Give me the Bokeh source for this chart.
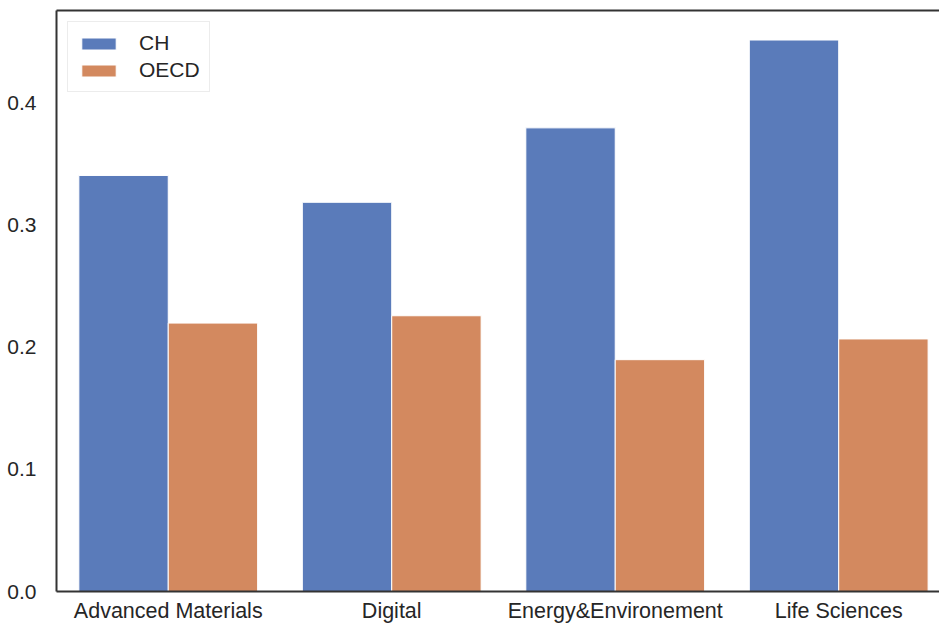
from bokeh.plotting import figure
from bokeh.models import Range1d, FixedTicker, LinearAxis, Legend, LegendItem
from bokeh.embed import file_html
from bokeh.resources import INLINE

categories = ["Advanced Materials", "Digital", "Energy&Environement", "Life Sciences"]
series_names = ["CH", "OECD"]
ch_values = [0.341, 0.319, 0.380, 0.452]
oecd_values = [0.220, 0.226, 0.190, 0.207]
y_ticks = [0.0, 0.1, 0.2, 0.3, 0.4]

BLUE = "#5a7bba"
ORANGE = "#d3895f"
AXIS = "#333333"
TEXT = "#262626"
FONT = "Liberation Sans"

idx = list(range(len(categories)))
bar_w = 0.4

p = figure(frame_width=883, frame_height=581, output_backend="svg", toolbar_location=None,
           x_range=Range1d(-0.5, 3.451), y_range=Range1d(0, 0.4762),
           min_border_left=56, min_border_right=0, min_border_top=10, min_border_bottom=30)
p.outline_line_color = None
p.background_fill_color = "white"
p.border_fill_color = "white"
p.xgrid.visible = False
p.ygrid.visible = False

x_ch = [i - bar_w / 2 for i in idx]
x_oe = [i + bar_w / 2 for i in idx]
r1 = p.vbar(x=x_ch, top=ch_values, width=bar_w, fill_color=BLUE, line_color="white", line_width=1)
r2 = p.vbar(x=x_oe, top=oecd_values, width=bar_w, fill_color=ORANGE, line_color="white", line_width=1)

for ax in (p.xaxis[0], p.yaxis[0]):
    ax.axis_line_color = AXIS
    ax.axis_line_width = 2
    ax.major_tick_line_color = None
    ax.minor_tick_line_color = None
    ax.major_label_text_font = FONT
    ax.major_label_text_font_size = "21px"
    ax.major_label_text_color = TEXT

p.xaxis[0].ticker = FixedTicker(ticks=idx)
p.xaxis[0].major_label_overrides = {i: c for i, c in zip(idx, categories)}
p.xaxis[0].major_label_standoff = 1
p.xaxis[0].major_label_text_font_size = "21.5px"
p.yaxis[0].ticker = FixedTicker(ticks=y_ticks)
p.yaxis[0].major_label_overrides = {t: f"{t:.1f}" for t in y_ticks}
p.yaxis[0].major_label_standoff = 14

top_axis = LinearAxis(ticker=FixedTicker(ticks=[]), axis_line_color=AXIS, axis_line_width=2,
                      major_tick_line_color=None, minor_tick_line_color=None,
                      major_label_text_font_size="0px")
p.add_layout(top_axis, "above")

legend = Legend(items=[LegendItem(label=series_names[0], renderers=[r1]),
                       LegendItem(label=series_names[1], renderers=[r2])],
                location="top_left")
legend.label_text_font = FONT
legend.label_text_font_size = "21px"
legend.label_text_color = TEXT
legend.glyph_width = 43
legend.glyph_height = 15
legend.label_height = 20
legend.spacing = 3
legend.padding = 9
legend.margin = 11
legend.label_standoff = 19
legend.border_line_color = "#d9d9d9"
legend.border_line_width = 1
legend.background_fill_alpha = 1
p.add_layout(legend)

open("out.html", "w").write(file_html(p, INLINE))
